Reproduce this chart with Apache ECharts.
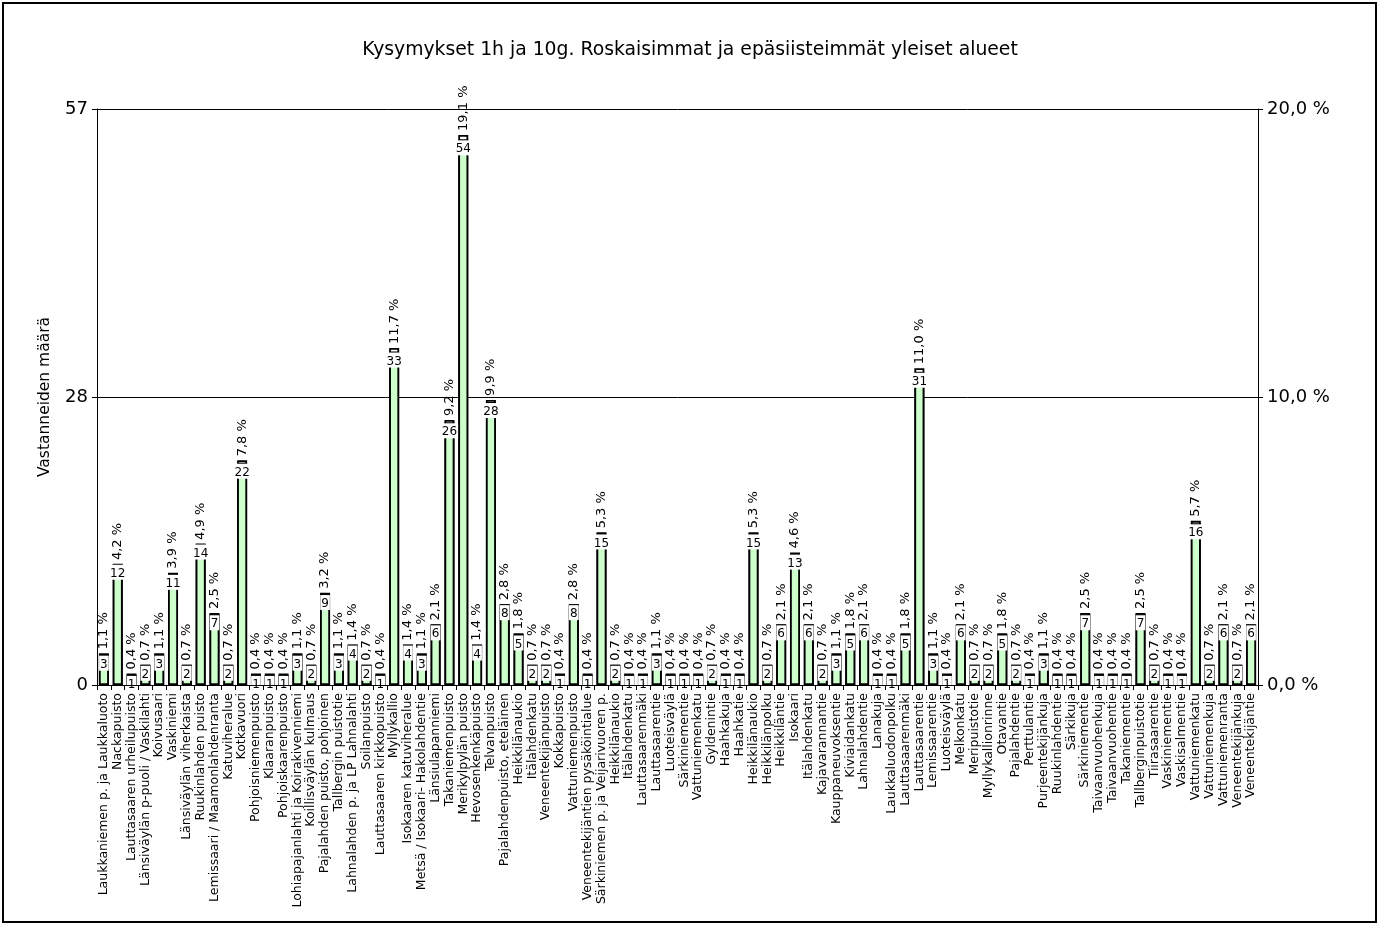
<!DOCTYPE html>
<html><head><meta charset="utf-8">
<script src="https://cdn.jsdelivr.net/npm/echarts@6/dist/echarts.min.js"></script>
<style>html,body{margin:0;padding:0;background:#fff}#c{width:1380px;height:926px}</style>
</head><body><div id="c"></div>
<script>
const categories = [
"Laukkaniemen p. ja Laukkaluoto","Nackapuisto","Lauttasaaren urheilupuisto","Länsiväylän p-puoli / Vaskilahti","Koivusaari",
"Vaskiniemi","Länsiväylän viherkaista","Ruukinlahden puisto","Lemissaari / Maamonlahdenranta","Katuviheralue",
"Kotkavuori","Pohjoisniemenpuisto","Klaaranpuisto","Pohjoiskaarenpuisto","Lohiapajanlahti ja Koirakivenniemi",
"Koillisväylän kulmaus","Pajalahden puisto, pohjoinen","Tallbergin puistotie","Lahnalahden p. ja LP Lahnalahti","Soilanpuisto",
"Lauttasaaren kirkkopuisto","Myllykallio","Isokaaren katuviheralue","Metsä / Isokaari- Hakolahdentie","Länsiulapanniemi",
"Takaniemenpuisto","Merikylpylän puisto","Hevosenkenkäpuisto","Telvanpuisto","Pajalahdenpuisto, eteläinen",
"Heikkilänaukio","Itälahdenkatu","Veneentekijänpuisto","Kokkapuisto","Vattuniemenpuisto",
"Veneentekijäntien pysäköintialue","Särkiniemen p. ja Veijarivuoren p.","Heikkilänaukio","Itälahdenkatu","Lauttasaarenmäki",
"Lauttasaarentie","Luoteisväylä","Särkiniementie","Vattuniemenkatu","Gyldenintie",
"Haahkakuja","Haahkatie","Heikkilänaukio","Heikkilänpolku","Heikkiläntie",
"Isokaari","Itälahdenkatu","Kajavarannantie","Kauppaneuvoksentie","Kiviaidankatu",
"Lahnalahdentie","Lanakuja","Laukkaluodonpolku","Lauttasaarenmäki","Lauttasaarentie",
"Lemissaarentie","Luoteisväylä","Melkonkatu","Meripuistotie","Myllykallionrinne",
"Otavantie","Pajalahdentie","Perttulantie","Purjeentekijänkuja","Ruukinlahdentie",
"Särkikuja","Särkiniementie","Taivaanvuohenkuja","Taivaanvuohentie","Takaniementie",
"Tallberginpuistotie","Tiirasaarentie","Vaskiniementie","Vaskisalmentie","Vattuniemenkatu",
"Vattuniemenkuja","Vattuniemenranta","Veneentekijänkuja","Veneentekijäntie"
];
const counts = [
3,12,1,2,3, 11,2,14,7,2, 22,1,1,1,3, 2,9,3,4,2, 1,33,4,3,6, 26,54,4,28,8,
5,2,2,1,8, 1,15,2,1,1, 3,1,1,1,2, 1,1,15,2,6, 13,6,2,3,5, 6,1,1,5,31,
3,1,6,2,2, 5,2,1,3,1, 1,7,1,1,1, 7,2,1,1,16, 2,6,2,6
];
const percents = [
1.1,4.2,0.4,0.7,1.1, 3.9,0.7,4.9,2.5,0.7, 7.8,0.4,0.4,0.4,1.1, 0.7,3.2,1.1,1.4,0.7,
0.4,11.7,1.4,1.1,2.1, 9.2,19.1,1.4,9.9,2.8, 1.8,0.7,0.7,0.4,2.8, 0.4,5.3,0.7,0.4,0.4,
1.1,0.4,0.4,0.4,0.7, 0.4,0.4,5.3,0.7,2.1, 4.6,2.1,0.7,1.1,1.8, 2.1,0.4,0.4,1.8,11.0,
1.1,0.4,2.1,0.7,0.7, 1.8,0.7,0.4,1.1,0.4, 0.4,2.5,0.4,0.4,0.4, 2.5,0.7,0.4,0.4,5.7,
0.7,2.1,0.7,2.1
];
const leftTicks = {min:0, max:57, interval:28.5};
const rightTicks = {min:0, max:20, interval:10};
const titleText = "Kysymykset 1h ja 10g. Roskaisimmat ja epäsiisteimmät yleiset alueet";
const yName = "Vastanneiden määrä";

const FONT = "DejaVu Sans";
const fmtPct = v => v.toFixed(1).replace('.', ',') + ' %';

const chart = echarts.init(document.getElementById('c'), null, {renderer:'canvas'});
chart.setOption({
  animation:false,
  backgroundColor:'#fff',
  textStyle:{fontFamily:FONT, color:'#000'},
  title:{text:titleText, left:'center', top:36, textStyle:{fontFamily:FONT, fontSize:18.8, fontWeight:'normal', color:'#000'}},
  graphic:[{type:'rect', shape:{x:3,y:3,width:1373,height:919}, style:{fill:'none', stroke:'#000', lineWidth:2}, silent:true}],
  grid:{left:97, right:122, top:109, bottom:241, containLabel:false},
  xAxis:{
    type:'category', data:categories, z:10,
    axisLine:{lineStyle:{color:'#000', width:1}},
    axisTick:{show:true, length:5, lineStyle:{color:'#000'}},
    axisLabel:{interval:0, rotate:90, fontSize:12.5, color:'#000', fontFamily:FONT, margin:8}
  },
  yAxis:[
    {type:'value', min:leftTicks.min, max:leftTicks.max, interval:leftTicks.interval,
     name:yName, nameLocation:'middle', nameGap:44, nameRotate:90,
     nameTextStyle:{fontFamily:FONT, fontSize:15.5, color:'#000'},
     axisLine:{show:true, lineStyle:{color:'#000'}},
     axisTick:{show:true, length:5, lineStyle:{color:'#000'}},
     axisLabel:{fontSize:18, color:'#000', fontFamily:FONT, margin:9, formatter:v=>String(Math.floor(v))},
     splitLine:{show:true, lineStyle:{color:'#000', width:1}}},
    {type:'value', min:rightTicks.min, max:rightTicks.max, interval:rightTicks.interval, position:'right',
     axisLine:{show:true, lineStyle:{color:'#000'}},
     axisTick:{show:true, length:5, lineStyle:{color:'#000'}},
     axisLabel:{fontSize:18, color:'#000', fontFamily:FONT, margin:9, formatter:v=>fmtPct(v)},
     splitLine:{show:false}}
  ],
  series:[
    {type:'bar', name:'%', yAxisIndex:1, data:percents, barWidth:10, z:1,
     itemStyle:{color:'#fff', borderColor:'#000', borderWidth:1.8},
     label:{show:true, position:'top', rotate:90, align:'left', verticalAlign:'middle', distance:4,
            fontSize:13, color:'#000', fontFamily:FONT, formatter:p=>fmtPct(p.value)}},
    {type:'bar', name:'n', yAxisIndex:0, data:counts, barWidth:10, barGap:'-100%', z:2,
     itemStyle:{color:'#ccffcc', borderColor:'#000', borderWidth:1.8},
     label:{show:true, position:'insideTop', distance:1, fontSize:12, color:'#000', fontFamily:FONT,
            backgroundColor:'#fff', padding:[3,1,0,1]}}
  ]
});
</script></body></html>
